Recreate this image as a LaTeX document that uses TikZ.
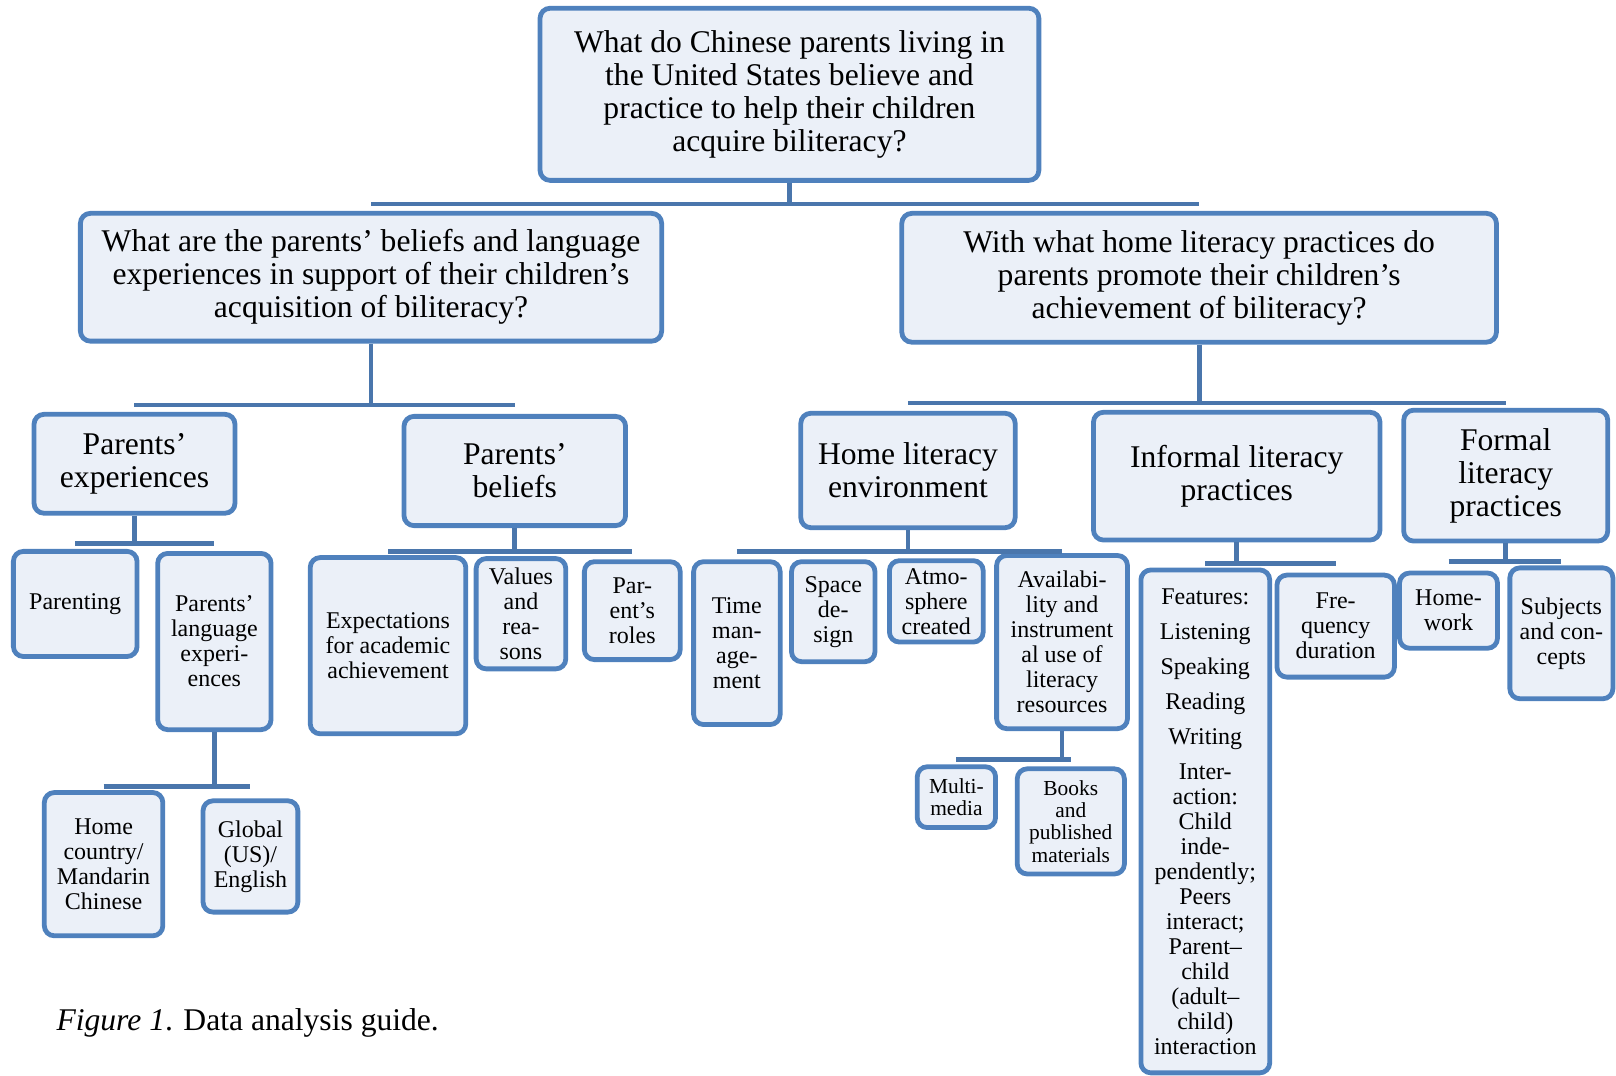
\documentclass[tikz,border=0pt]{standalone}
\usepackage{fontspec}
\setmainfont{Liberation Serif}
\usepackage{tikz}
\usepackage{xcolor}

\definecolor{boxblue}{HTML}{4F81BD}
\definecolor{boxfill}{HTML}{EBF0F8}
\definecolor{linkblue}{HTML}{4A76AC}

\newcommand{\px}{0.5153pt}
\newcommand{\bigfont}{\fontsize{15.8}{16.5}\selectfont}
\newcommand{\smallfont}{\fontsize{12}{12.5}\selectfont}
\newcommand{\tinyfont}{\fontsize{10.7}{11.2}\selectfont}

\tikzset{
    qbox/.style={draw=boxblue, fill=boxfill, line width=2.4pt, rounded corners=5pt,
        align=center, inner sep=0pt},
    link/.style={draw=linkblue, line width=2.4pt},
}

\begin{document}
\begin{tikzpicture}[x=\px, y=-\px]
        \useasboundingbox (0,0) rectangle (1568,1044);

        % research questions
        \node[qbox, font=\bigfont, minimum width=484*\px, minimum height=167*\px] (top) at (766,91.5) {
            What do Chinese parents living in\\the United States believe and\\practice to help their children\\acquire biliteracy?};
        \node[qbox, font=\bigfont, minimum width=564*\px, minimum height=124*\px] (beliefq) at (360,269) {
            What are the parents' beliefs and language\\experiences in support of their children's\\acquisition of biliteracy?};
        \node[qbox, font=\bigfont, minimum width=577*\px, minimum height=125*\px] (practq) at (1163.5,269.5) {
            With what home literacy practices do\\parents promote their children's\\achievement of biliteracy?};

        % themes
        \node[qbox, font=\bigfont, minimum width=195*\px, minimum height=96*\px] (pexp) at (130.5,450) {Parents'\\experiences};
        \node[qbox, font=\bigfont, minimum width=215*\px, minimum height=106*\px] (pbel) at (499.5,457) {Parents'\\beliefs};
        \node[qbox, font=\bigfont, minimum width=208*\px, minimum height=111*\px] (homeenv) at (881,456.5) {Home literacy\\environment};
        \node[qbox, font=\bigfont, minimum width=278*\px, minimum height=124*\px] (informal) at (1200,462) {Informal literacy\\practices};
        \node[qbox, font=\bigfont, minimum width=198*\px, minimum height=127*\px] (formal) at (1461,461.5) {Formal\\literacy\\practices};

        % codes
        \node[qbox, font=\smallfont, minimum width=120*\px, minimum height=102*\px] (parenting) at (73,586) {Parenting};
        \node[qbox, font=\smallfont, minimum width=110*\px, minimum height=171*\px] (plang) at (208,622.5) {Parents'\\language\\experi-\\ences};
        \node[qbox, font=\smallfont, minimum width=115*\px, minimum height=139*\px] (homecountry) at (100.5,838.5) {Home\\country/\\Mandarin\\Chinese};
        \node[qbox, font=\smallfont, minimum width=92*\px, minimum height=108*\px] (global) at (243,831) {Global\\(US)/\\English};
        \node[qbox, font=\smallfont, minimum width=151*\px, minimum height=171*\px] (expect) at (376.5,626.5) {Expectations\\for academic\\achievement};
        \node[qbox, font=\smallfont, minimum width=87*\px, minimum height=107*\px] (values) at (505.5,595.5) {Values\\and\\rea-\\sons};
        \node[qbox, font=\smallfont, minimum width=93*\px, minimum height=95*\px] (roles) at (613.5,592.5) {Par-\\ent's\\roles};
        \node[qbox, font=\smallfont, minimum width=84*\px, minimum height=158*\px] (timemgmt) at (715,624) {Time\\man-\\age-\\ment};
        \node[qbox, font=\smallfont, minimum width=81*\px, minimum height=97*\px] (space) at (808.5,593.5) {Space\\de-\\sign};
        \node[qbox, font=\smallfont, minimum width=91*\px, minimum height=79*\px] (atmo) at (908.5,583.5) {Atmo-\\sphere\\created};
        \node[qbox, font=\smallfont, minimum width=127*\px, minimum height=168*\px] (avail) at (1030.5,623) {Availabi-\\lity and\\instrument\\al use of\\literacy\\resources};
        \node[qbox, font=\tinyfont, minimum width=76*\px, minimum height=59*\px] (multi) at (928,773.5) {Multi-\\media};
        \node[qbox, font=\tinyfont, minimum width=104*\px, minimum height=102*\px] (books) at (1039,797) {Books\\and\\published\\materials};
        \node[qbox, font=\smallfont, minimum width=125*\px, minimum height=488*\px] (features) at (1169.5,797) {
            Features:\\[5pt]Listening\\[5pt]Speaking\\[5pt]Reading\\[5pt]Writing\\[5pt]Inter-\\action:\\Child\\inde-\\pendently;\\Peers\\interact;\\Parent--\\child\\(adult--\\child)\\interaction};
        \node[qbox, font=\smallfont, minimum width=114*\px, minimum height=99*\px] (freq) at (1296,607.5) {Fre-\\quency\\duration};
        \node[qbox, font=\smallfont, minimum width=95*\px, minimum height=73*\px] (homework) at (1405.5,592.5) {Home-\\work};
        \node[qbox, font=\smallfont, minimum width=100*\px, minimum height=127*\px] (subjects) at (1515,614.5) {Subjects\\and con-\\cepts};

        % connectors
        \coordinate (b0) at (0,198);
        \draw[link] (top.south) -- (top.south |- b0);
        \draw[link] (beliefq.north |- b0) -- (practq.north |- b0);
        \coordinate (b1) at (0,393);
        \draw[link] (beliefq.south) -- (beliefq.south |- b1);
        \draw[link] (pexp.north |- b1) -- (pbel.north |- b1);
        \coordinate (b2) at (0,391);
        \draw[link] (practq.south) -- (practq.south |- b2);
        \draw[link] (homeenv.north |- b2) -- (formal.north |- b2);
        \coordinate (b3) at (0,527);
        \draw[link] (pexp.south) -- (pexp.south |- b3);
        \draw[link] (parenting.north |- b3) -- (plang.north |- b3);
        \coordinate (b4) at (0,763);
        \draw[link] (plang.south) -- (plang.south |- b4);
        \draw[link] (homecountry.north |- b4) -- (global.north |- b4);
        \coordinate (b5) at (0,535);
        \draw[link] (pbel.south) -- (pbel.south |- b5);
        \draw[link] (expect.north |- b5) -- (roles.north |- b5);
        \coordinate (b6) at (0,535);
        \draw[link] (homeenv.south) -- (homeenv.south |- b6);
        \draw[link] (timemgmt.north |- b6) -- (avail.north |- b6);
        \coordinate (b7) at (0,737);
        \draw[link] (avail.south) -- (avail.south |- b7);
        \draw[link] (multi.north |- b7) -- (books.north |- b7);
        \coordinate (b8) at (0,547);
        \draw[link] (informal.south) -- (informal.south |- b8);
        \draw[link] (features.north |- b8) -- (freq.north |- b8);
        \coordinate (b9) at (0,545);
        \draw[link] (formal.south) -- (formal.south |- b9);
        \draw[link] (homework.north |- b9) -- (subjects.north |- b9);

        \node[anchor=base west, font=\fontsize{15.8}{17}\selectfont] (caption) at (48,1000) {\textit{Figure 1}. Data analysis guide.};
    \end{tikzpicture}
\end{document}
